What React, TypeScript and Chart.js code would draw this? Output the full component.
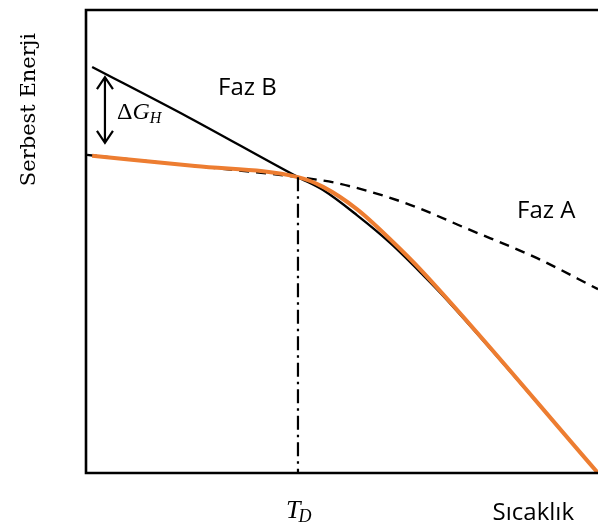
import React, { useEffect, useRef } from "react";
import { Chart, registerables } from "chart.js";

Chart.register(...registerables);

// Temperature axis runs 0..10, free energy axis 0..10 (arbitrary units)
const X_MIN = 0;
const X_MAX = 10;
const Y_MIN = 0;
const Y_MAX = 10;

// Phase A free energy (dashed curve)
const phaseA_T = [0.02, 2.13, 4.14, 4.9, 6.19, 7.5, 8.81, 10];
const phaseA_G = [6.87, 6.63, 6.39, 6.26, 5.85, 5.25, 4.64, 3.97];

// Phase B free energy (solid black curve)
const phaseB_T = [0.12, 1.99, 4.14, 4.63, 5.29, 5.94, 6.58, 7.05, 10];
const phaseB_G = [8.77, 7.69, 6.39, 6.11, 5.57, 4.97, 4.28, 3.74, 0];

// Stable (lowest) free energy path (orange)
const stable_T = [0.12, 2.13, 4.14, 4.63, 5.29, 5.94, 6.58, 10];
const stable_G = [6.85, 6.63, 6.39, 6.18, 5.70, 5.05, 4.34, 0];

// Transition temperature and its free energy
const T_D = 4.14;
const G_D = 6.39;

// ΔG_H arrow at the low-temperature end
const deltaArrowT = 0.37;
const deltaArrowTop = 8.55;
const deltaArrowBottom = 7.13;

const toPoints = (xs: number[], ys: number[]) => xs.map((x, i) => ({ x, y: ys[i] }));

const SANS = '"Open Sans", "Noto Sans", sans-serif';
const SERIF = '"Liberation Serif", "DejaVu Serif", serif';
const SERIF_WIDE = '"DejaVu Serif", "Liberation Serif", serif';

const decorations = {
  id: "decorations",
  afterDatasetsDraw(chart: any) {
    const { ctx, chartArea, scales } = chart;
    const xs = scales.x;
    const ys = scales.y;
    ctx.save();

    // Frame: left, top and bottom edges
    ctx.strokeStyle = "#000";
    ctx.lineWidth = 2.6;
    ctx.lineCap = "butt";
    ctx.beginPath();
    ctx.moveTo(chartArea.right + 2, chartArea.top);
    ctx.lineTo(chartArea.left, chartArea.top);
    ctx.lineTo(chartArea.left, chartArea.bottom);
    ctx.lineTo(chartArea.right + 2, chartArea.bottom);
    ctx.stroke();

    // Double-headed ΔG_H arrow
    const ax = xs.getPixelForValue(deltaArrowT);
    const ayTop = ys.getPixelForValue(deltaArrowTop);
    const ayBot = ys.getPixelForValue(deltaArrowBottom);
    ctx.lineWidth = 2.2;
    ctx.lineJoin = "miter";
    ctx.beginPath();
    ctx.moveTo(ax, ayTop);
    ctx.lineTo(ax, ayBot);
    ctx.moveTo(ax - 8, ayTop + 12);
    ctx.lineTo(ax, ayTop);
    ctx.lineTo(ax + 8, ayTop + 12);
    ctx.moveTo(ax - 8, ayBot - 12);
    ctx.lineTo(ax, ayBot);
    ctx.lineTo(ax + 8, ayBot - 12);
    ctx.stroke();

    ctx.fillStyle = "#000";
    ctx.textBaseline = "alphabetic";

    // ΔG_H label
    const lblY = (ayTop + ayBot) / 2 + 9;
    ctx.textAlign = "left";
    ctx.font = `24px ${SERIF}`;
    ctx.fillText("Δ", ax + 12, lblY);
    const dW = ctx.measureText("Δ").width;
    ctx.font = `italic 24px ${SERIF}`;
    ctx.fillText("G", ax + 12 + dW, lblY);
    const gW = ctx.measureText("G").width;
    ctx.font = `italic 16px ${SERIF}`;
    ctx.fillText("H", ax + 12 + dW + gW, lblY + 4);

    // Phase labels
    ctx.font = `24px ${SANS}`;
    ctx.fillText("Faz B", xs.getPixelForValue(2.58), ys.getPixelForValue(8.16));
    ctx.fillText("Faz A", xs.getPixelForValue(8.42), ys.getPixelForValue(5.51));

    // T_D under the transition line
    const tdx = xs.getPixelForValue(T_D);
    const tdBase = chartArea.bottom + 45;
    ctx.font = `italic 26px ${SERIF}`;
    const tW = ctx.measureText("T").width;
    ctx.fillText("T", tdx - 12, tdBase);
    ctx.font = `italic 18px ${SERIF}`;
    ctx.fillText("D", tdx - 14 + tW, tdBase + 4);

    // Axis titles
    ctx.font = `24px ${SANS}`;
    ctx.textAlign = "right";
    ctx.fillText("Sıcaklık", 574, chartArea.bottom + 47);

    ctx.translate(35, 33);
    ctx.rotate(-Math.PI / 2);
    ctx.font = `21px ${SERIF_WIDE}`;
    ctx.textAlign = "right";
    ctx.fillText("Serbest Enerji", 0, 0);

    ctx.restore();
  },
};

export default function App() {
  const canvasRef = useRef<HTMLCanvasElement | null>(null);

  useEffect(() => {
    const canvas = canvasRef.current;
    if (!canvas) return;
    const chart = new Chart(canvas, {
      type: "line",
      data: {
        datasets: [
          {
            label: "T_D",
            data: [
              { x: T_D, y: G_D },
              { x: T_D, y: Y_MIN },
            ],
            borderColor: "#000",
            borderWidth: 2.2,
            borderDash: [14, 5, 2.5, 5],
            pointRadius: 0,
            order: 0,
          },
          {
            label: "Kararlı",
            data: toPoints(stable_T, stable_G),
            borderColor: "#ED7D31",
            borderWidth: 4,
            pointRadius: 0,
            cubicInterpolationMode: "monotone",
            order: 1,
          },
          {
            label: "Faz B",
            data: toPoints(phaseB_T, phaseB_G),
            borderColor: "#000",
            borderWidth: 2.4,
            pointRadius: 0,
            cubicInterpolationMode: "monotone",
            order: 2,
          },
          {
            label: "Faz A",
            data: toPoints(phaseA_T, phaseA_G),
            borderColor: "#000",
            borderWidth: 2.4,
            borderDash: [10, 7],
            pointRadius: 0,
            cubicInterpolationMode: "monotone",
            order: 3,
          },
        ],
      },
      options: {
        animation: false,
        responsive: false,
        layout: { padding: { left: 86, top: 10, right: 0, bottom: 57 } },
        plugins: {
          legend: { display: false },
          tooltip: { enabled: false },
        },
        scales: {
          x: { type: "linear", min: X_MIN, max: X_MAX, display: false },
          y: { type: "linear", min: Y_MIN, max: Y_MAX, display: false },
        },
      },
      plugins: [decorations],
    });
    return () => chart.destroy();
  }, []);

  return (
    <div style={{ position: "fixed", left: 0, top: 0, width: 598, height: 530, background: "#fff" }}>
      <canvas ref={canvasRef} width={598} height={530} />
    </div>
  );
}
